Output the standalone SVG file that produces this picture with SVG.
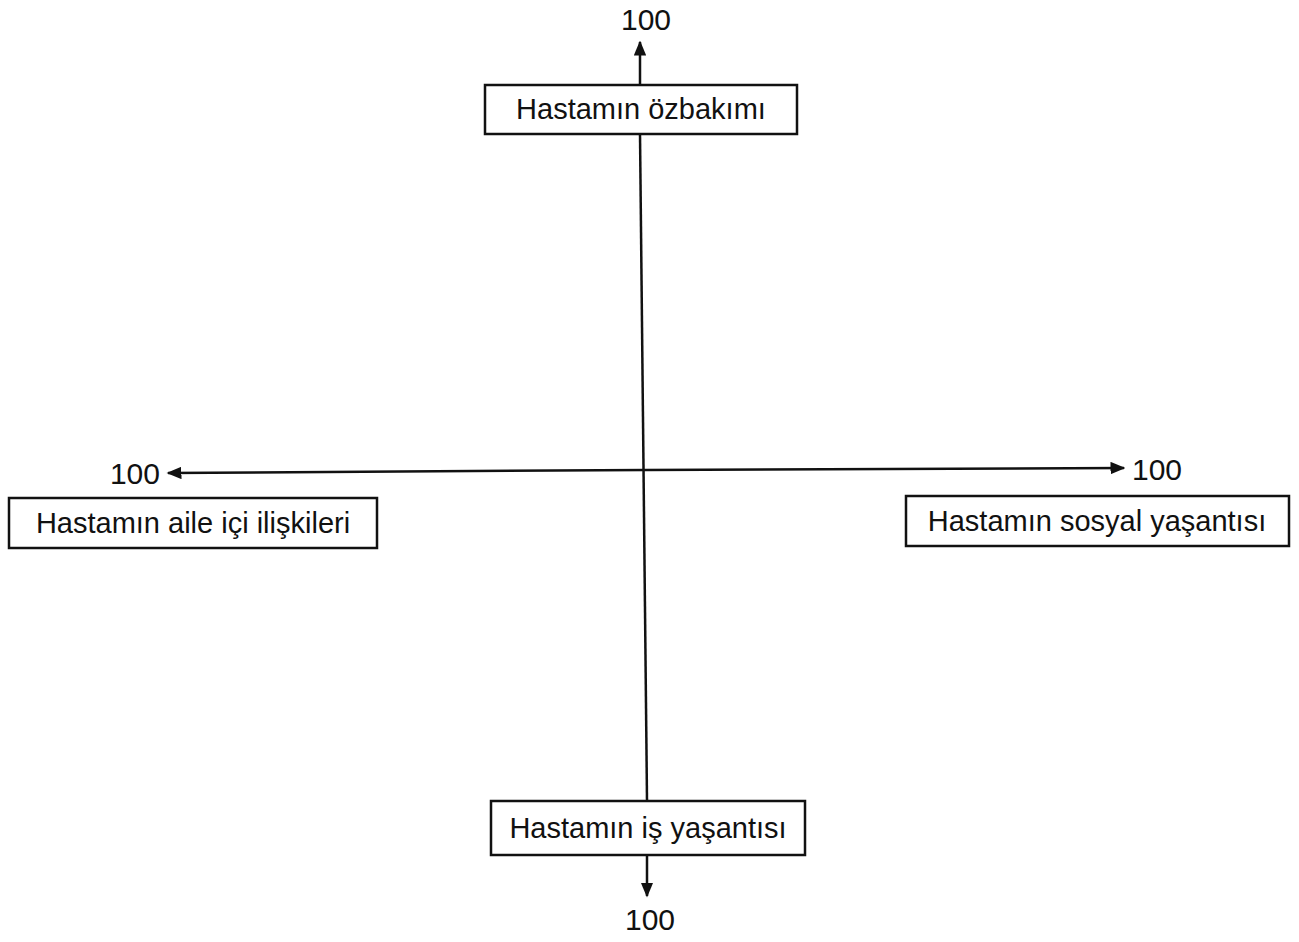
<svg xmlns="http://www.w3.org/2000/svg" width="1299" height="942" viewBox="0 0 1299 942">
<style>
.box{fill:#fff;stroke:#111;stroke-width:2.5}
.lbl{font-family:"Liberation Sans",Arial,sans-serif;font-size:29px;fill:#111;text-anchor:middle}
.num{font-family:"Liberation Sans",Arial,sans-serif;font-size:30px;fill:#111}
.ax{stroke:#111;stroke-width:2.5;fill:none}
</style>
<defs>
<marker id="ah" viewBox="0 0 10 10" refX="9" refY="5" markerWidth="6" markerHeight="5" markerUnits="strokeWidth" orient="auto" preserveAspectRatio="none">
<path d="M0,0 L10,5 L0,10 z" fill="#111"/>
</marker>
</defs>
<rect width="1299" height="942" fill="#fff"/>
<g id="connectors">
<line class="ax" x1="640" y1="84" x2="640" y2="42" marker-end="url(#ah)"/>
<line class="ax" x1="640" y1="134" x2="647" y2="800"/>
<line class="ax" x1="647" y1="855" x2="647" y2="896" marker-end="url(#ah)"/>
<line class="ax" x1="646" y1="470" x2="168" y2="473" marker-end="url(#ah)"/>
<line class="ax" x1="646" y1="470" x2="1124" y2="468" marker-end="url(#ah)"/>
</g>
<g id="n_top">
<rect class="box" x="485" y="85" width="312" height="49"/>
<text class="lbl" x="641" y="119">Hastamın özbakımı</text>
<text class="num" x="646" y="30" text-anchor="middle">100</text>
</g>
<g id="n_bottom">
<rect class="box" x="491" y="801" width="314" height="54"/>
<text class="lbl" x="648" y="838">Hastamın iş yaşantısı</text>
<text class="num" x="650" y="930" text-anchor="middle">100</text>
</g>
<g id="n_left">
<rect class="box" x="9" y="498" width="368" height="50"/>
<text class="lbl" x="193" y="533">Hastamın aile içi ilişkileri</text>
<text class="num" x="160" y="484" text-anchor="end">100</text>
</g>
<g id="n_right">
<rect class="box" x="906" y="496" width="383" height="50"/>
<text class="lbl" x="1097" y="531">Hastamın sosyal yaşantısı</text>
<text class="num" x="1132" y="480">100</text>
</g>
</svg>
